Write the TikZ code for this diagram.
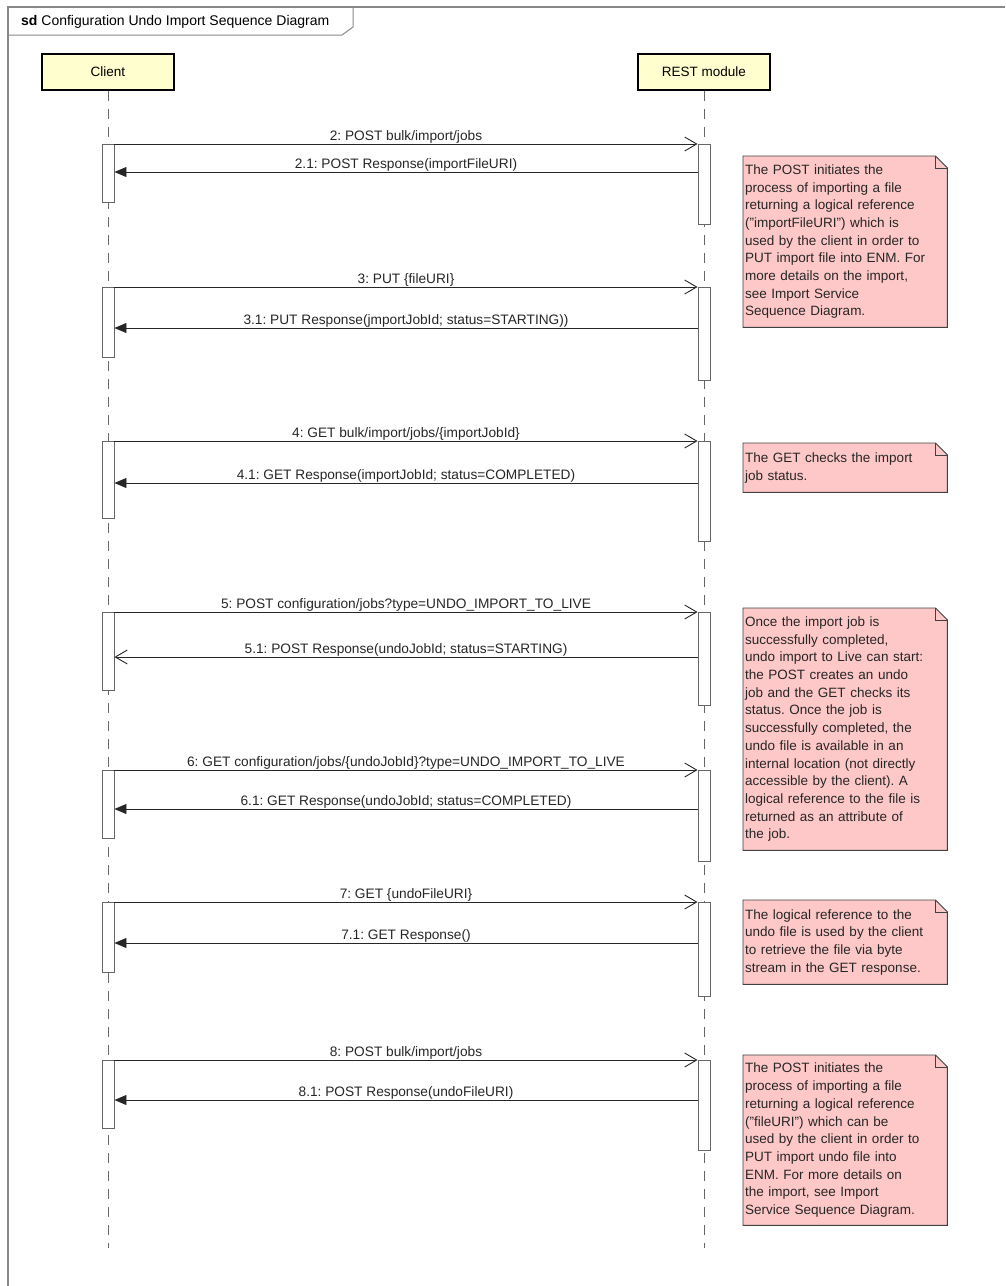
\documentclass[tikz,border=0pt]{standalone}
\usepackage{fontspec}
\setmainfont{Liberation Sans}
\usetikzlibrary{arrows.meta,positioning,backgrounds}
\frenchspacing
\definecolor{actorfill}{RGB}{254,254,206}
\definecolor{notefill}{RGB}{255,200,200}
\definecolor{framegray}{RGB}{136,136,136}
\tikzset{
  >={Triangle[length=12pt,width=10pt]},
  actor/.style={draw=black, line width=1.6pt, fill=actorfill, minimum width=132pt, minimum height=36pt, inner sep=0pt, font=\fontsize{13.5}{16}\selectfont},
  lifeline/.style={draw=black!60, line width=0.9pt, dash pattern=on 10pt off 8pt},
  actbar/.style={draw=black!60, fill=white, line width=0.9pt, minimum width=12pt, inner sep=0pt, anchor=north},
  req/.style={draw=black!85, line width=0.9pt, -{Straight Barb[length=12pt,width=14pt,line width=0.9pt]}},
  ret/.style={draw=black!85, line width=0.9pt, ->},
  msg/.style={anchor=base, yshift=4pt, inner sep=0pt, font=\fontsize{13.7}{16}\selectfont, text=black!85},
  note/.style={anchor=north west, text width=200pt, align=left, inner xsep=2pt, inner ysep=2pt, font=\fontsize{13.5}{17.7}\selectfont, text=black!85},
  notebg/.style={draw=black!75, fill=notefill, line width=0.9pt},
}

\begin{document}
\begin{tikzpicture}[x=1pt, y=-1pt]
  \useasboundingbox (0,0) rectangle (1005,1286);

  % frame and title tab
  \draw[framegray, line width=1.3pt] (8,1286) -- (8,7) -- (1005,7);
  \draw[framegray, line width=1pt] (8,35) -- (342,35) -- (353,27) -- (353,7);
  \node[anchor=west, inner sep=0pt, font=\fontsize{14}{16}\selectfont] (title) at (21,22) {\textbf{sd} Configuration Undo Import Sequence Diagram};

  % participants
  \node[actor] (client) at (108,72) {Client};
  \node[actor] (rest) at (704,72) {REST module};
  \coordinate (end) at (0,1248);
  \draw[lifeline] (client.south) -- (client.south |- end);
  \draw[lifeline] (rest.south) -- (rest.south |- end);

  % activations
  \node[actbar, minimum height=58pt] (ca2) at (108,144) {};
  \node[actbar, minimum height=80pt] (ra2) at (704,144) {};
  \node[actbar, minimum height=70pt] (ca3) at (108,287) {};
  \node[actbar, minimum height=93pt] (ra3) at (704,287) {};
  \node[actbar, minimum height=77pt] (ca4) at (108,441) {};
  \node[actbar, minimum height=100pt] (ra4) at (704,441) {};
  \node[actbar, minimum height=78pt] (ca5) at (108,612) {};
  \node[actbar, minimum height=93pt] (ra5) at (704,612) {};
  \node[actbar, minimum height=68pt] (ca6) at (108,770) {};
  \node[actbar, minimum height=91pt] (ra6) at (704,770) {};
  \node[actbar, minimum height=70pt] (ca7) at (108,902) {};
  \node[actbar, minimum height=94pt] (ra7) at (704,902) {};
  \node[actbar, minimum height=68pt] (ca8) at (108,1060) {};
  \node[actbar, minimum height=90pt] (ra8) at (704,1060) {};

  % return levels
  \coordinate (r2) at (0,172);
  \coordinate (r3) at (0,328);
  \coordinate (r4) at (0,483);
  \coordinate (r5) at (0,657);
  \coordinate (r6) at (0,809);
  \coordinate (r7) at (0,943);
  \coordinate (r8) at (0,1100);

  % messages
  \draw[req] (ca2.north east) -- node[msg] {2: POST bulk/import/jobs} (ra2.north west);
  \draw[ret] (ra2.west |- r2) -- node[msg] {2.1: POST Response(importFileURI)} (ca2.east |- r2);
  \draw[req] (ca3.north east) -- node[msg] {3: PUT \{fileURI\}} (ra3.north west);
  \draw[ret] (ra3.west |- r3) -- node[msg] {3.1: PUT Response(jmportJobId; status=STARTING))} (ca3.east |- r3);
  \draw[req] (ca4.north east) -- node[msg] {4: GET bulk/import/jobs/\{importJobId\}} (ra4.north west);
  \draw[ret] (ra4.west |- r4) -- node[msg] {4.1: GET Response(importJobId; status=COMPLETED)} (ca4.east |- r4);
  \draw[req] (ca5.north east) -- node[msg] {5: POST configuration/jobs?type=UNDO\_IMPORT\_TO\_LIVE} (ra5.north west);
  \draw[req] (ra5.west |- r5) -- node[msg] {5.1: POST Response(undoJobId; status=STARTING)} (ca5.east |- r5);
  \draw[req] (ca6.north east) -- node[msg] {6: GET configuration/jobs/\{undoJobId\}?type=UNDO\_IMPORT\_TO\_LIVE} (ra6.north west);
  \draw[ret] (ra6.west |- r6) -- node[msg] {6.1: GET Response(undoJobId; status=COMPLETED)} (ca6.east |- r6);
  \draw[req] (ca7.north east) -- node[msg] {7: GET \{undoFileURI\}} (ra7.north west);
  \draw[ret] (ra7.west |- r7) -- node[msg] {7.1: GET Response()} (ca7.east |- r7);
  \draw[req] (ca8.north east) -- node[msg] {8: POST bulk/import/jobs} (ra8.north west);
  \draw[ret] (ra8.west |- r8) -- node[msg] {8.1: POST Response(undoFileURI)} (ca8.east |- r8);

  % notes
  \node[note, minimum height=171pt] (n1) at (743,156) {The POST initiates the\\
    process of importing a file\\
    returning a logical reference\\
    (\symbol{34}importFileURI\symbol{34}) which is\\
    used by the client in order to\\
    PUT import file into ENM. For\\
    more details on the import,\\
    see Import Service\\
    Sequence Diagram.};
  \node[note, minimum height=49pt] (n2) at (743,443) {The GET checks the import\\
    job status.};
  \node[note, minimum height=242pt] (n3) at (743,608) {Once the import job is\\
    successfully completed,\\
    undo import to Live can start:\\
    the POST creates an undo\\
    job and the GET checks its\\
    status. Once the job is\\
    successfully completed, the\\
    undo file is available in an\\
    internal location (not directly\\
    accessible by the client). A\\
    logical reference to the file is\\
    returned as an attribute of\\
    the job.};
  \node[note, minimum height=84pt] (n4) at (743,900) {The logical reference to the\\
    undo file is used by the client\\
    to retrieve the file via byte\\
    stream in the GET response.};
  \node[note, minimum height=170pt] (n5) at (743,1055) {The POST initiates the\\
    process of importing a file\\
    returning a logical reference\\
    (\symbol{34}fileURI\symbol{34}) which can be\\
    used by the client in order to\\
    PUT import undo file into\\
    ENM. For more details on\\
    the import, see Import\\
    Service Sequence Diagram.};

  \begin{scope}[on background layer]
    \foreach \n in {n1,n2,n3,n4,n5} {
      \draw[notebg] (\n.north west) -- ([xshift=-12pt]\n.north east) -- ([yshift=-12pt]\n.north east)
        -- (\n.south east) -- (\n.south west) -- cycle;
      \draw[notebg, fill=none] ([xshift=-12pt]\n.north east) |- ([yshift=-12pt]\n.north east);
    }
  \end{scope}
\end{tikzpicture}
\end{document}
